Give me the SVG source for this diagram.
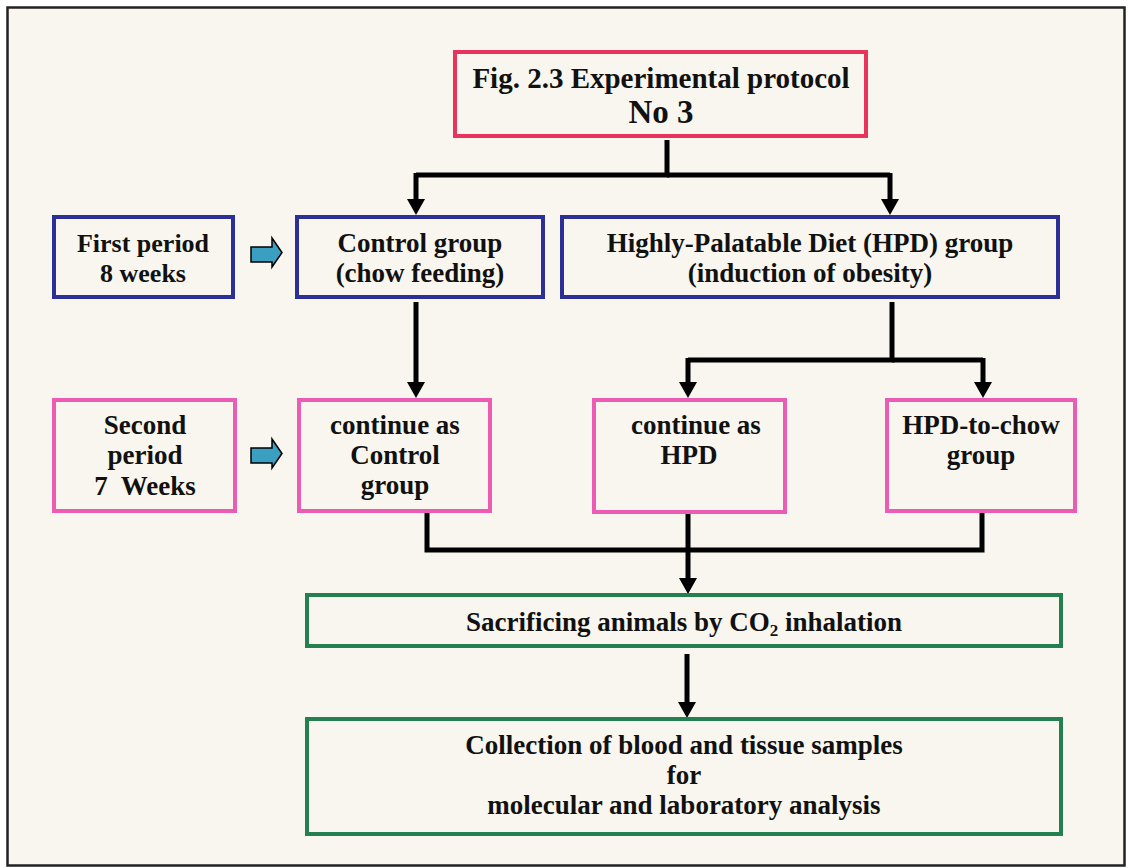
<svg xmlns="http://www.w3.org/2000/svg" width="1128" height="868" viewBox="0 0 1128 868">
<style>
  .t{font-family:"Liberation Serif","Times New Roman",serif;font-weight:bold;fill:#111;text-anchor:middle;font-size:27px}
  .box{fill:none;stroke-width:4}
  .blue{stroke:#2c2f95}
  .pink{stroke:#ec5cb4}
  .red{stroke:#e8335c}
  .green{stroke:#24804e}
  .conn{fill:none;stroke:#000;stroke-width:5;stroke-linejoin:miter}
  .arr{marker-end:url(#ah)}
  .block{fill:#3b9fc2;stroke:#000;stroke-width:1.5;stroke-linejoin:miter}
</style>
<defs>
  <marker id="ah" viewBox="0 0 16 18" markerWidth="16" markerHeight="18" markerUnits="userSpaceOnUse" refX="4" refY="9" orient="auto">
    <path d="M0,0 L16,9 L0,18 z" fill="#000"/>
  </marker>
</defs>
<rect x="0" y="0" width="1128" height="868" fill="#ffffff"/>
<rect x="7.5" y="7.5" width="1117" height="858" fill="#f8f6ee" stroke="#222" stroke-width="2.5"/>

<g id="connectors">
  <path class="conn" d="M667,140 V175 H416"/>
  <path class="conn arr" d="M416,173 V203"/>
  <path class="conn" d="M667,175 H890"/>
  <path class="conn arr" d="M890,173 V203"/>
  <path class="conn arr" d="M416,302 V386"/>
  <path class="conn" d="M892,302 V360 H688"/>
  <path class="conn arr" d="M688,358 V386"/>
  <path class="conn" d="M892,360 H983"/>
  <path class="conn arr" d="M983,358 V386"/>
  <path class="conn" d="M427,513 V550 H982 V513"/>
  <path class="conn arr" d="M688,513 V582"/>
  <path class="conn arr" d="M687,654 V706"/>
</g>

<g id="block-arrow-1"><path class="block" d="M251,247 H272 V238 L282,252.5 L272,267 V262 H251 Z"/></g>
<g id="block-arrow-2"><path class="block" d="M251,448 H272 V439 L282,453.5 L272,468 V463 H251 Z"/></g>

<g id="title">
  <rect class="box red" x="455" y="52" width="411" height="84"/>
  <text class="t" x="661" y="88" style="font-size:29px">Fig. 2.3 Experimental protocol</text>
  <text class="t" x="661" y="123" style="font-size:33px">No 3</text>
</g>
<g id="first-period">
  <rect class="box blue" x="54" y="217" width="179" height="80"/>
  <text class="t" x="143" y="252" style="font-size:26px">First period</text>
  <text class="t" x="143" y="282" style="font-size:26px">8 weeks</text>
</g>
<g id="control-group">
  <rect class="box blue" x="297" y="217" width="246" height="80"/>
  <text class="t" x="420" y="252">Control group</text>
  <text class="t" x="420" y="282">(chow feeding)</text>
</g>
<g id="hpd-group">
  <rect class="box blue" x="562" y="217" width="496" height="80"/>
  <text class="t" x="810" y="252">Highly-Palatable Diet (HPD) group</text>
  <text class="t" x="810" y="282">(induction of obesity)</text>
</g>
<g id="second-period">
  <rect class="box pink" x="54" y="400" width="181" height="111"/>
  <text class="t" x="145" y="434">Second</text>
  <text class="t" x="145" y="464">period</text>
  <text class="t" x="145" y="495" xml:space="preserve">7  Weeks</text>
</g>
<g id="continue-control">
  <rect class="box pink" x="299" y="400" width="191" height="111"/>
  <text class="t" x="395" y="434">continue as</text>
  <text class="t" x="395" y="464">Control</text>
  <text class="t" x="395" y="494">group</text>
</g>
<g id="continue-hpd">
  <rect class="box pink" x="594" y="400" width="191" height="112"/>
  <text class="t" x="696" y="434">continue as</text>
  <text class="t" x="689" y="464">HPD</text>
</g>
<g id="hpd-to-chow">
  <rect class="box pink" x="887" y="400" width="188" height="111"/>
  <text class="t" x="981" y="434">HPD-to-chow</text>
  <text class="t" x="981" y="464">group</text>
</g>
<g id="sacrificing">
  <rect class="box green" x="307" y="595" width="754" height="51"/>
  <text class="t" x="684" y="631">Sacrificing animals by CO<tspan dy="5" style="font-size:17px">2</tspan><tspan dy="-5"> inhalation</tspan></text>
</g>
<g id="collection">
  <rect class="box green" x="307" y="719" width="754" height="115"/>
  <text class="t" x="684" y="754">Collection of blood and tissue samples</text>
  <text class="t" x="684" y="784">for</text>
  <text class="t" x="684" y="814">molecular and laboratory analysis</text>
</g>
</svg>
